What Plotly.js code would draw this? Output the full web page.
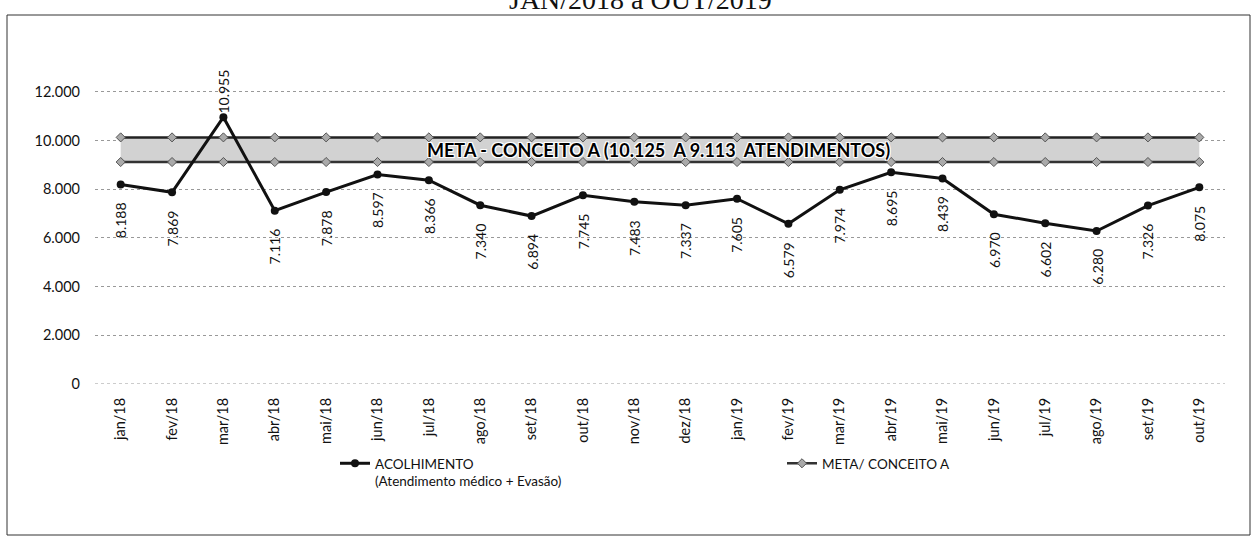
<!DOCTYPE html>
<html>
<head>
<meta charset="utf-8">
<script src="https://cdn.plot.ly/plotly-3.0.1.min.js"></script>
<style>html,body{margin:0;padding:0;background:#fff;}#chart{width:1258px;height:542px;}</style>
</head>
<body>
<div id="chart"></div>
<script>
const months = ["jan/18","fev/18","mar/18","abr/18","mai/18","jun/18","jul/18","ago/18","set/18","out/18","nov/18","dez/18","jan/19","fev/19","mar/19","abr/19","mai/19","jun/19","jul/19","ago/19","set/19","out/19"];
const acolhimento = [8188,7869,10955,7116,7878,8597,8366,7340,6894,7745,7483,7337,7605,6579,7974,8695,8439,6970,6602,6280,7326,8075];
const metaUpper = months.map(() => 10125);
const metaLower = months.map(() => 9113);
const yTicks = [0,2000,4000,6000,8000,10000,12000];
const yTickText = ["0","2.000","4.000","6.000","8.000","10.000","12.000"];
const bandLabel = "META - CONCEITO A (10.125  A 9.113  ATENDIMENTOS)";
const titleText = "JAN/2018 a OUT/2019";

function fmt(v){ return v.toLocaleString('de-DE'); }

const traces = [
  {x: months, y: metaLower, type:'scatter', mode:'lines+markers', name:'META/ CONCEITO A',
   line:{color:'#333', width:2.5}, marker:{symbol:'diamond', size:7, color:'#aaaaaa', line:{color:'#555', width:1}},
   legend:'legend2', hoverinfo:'skip'},
  {x: months, y: metaUpper, type:'scatter', mode:'lines+markers', name:'META upper', showlegend:false,
   fill:'tonexty', fillcolor:'#d2d2d2',
   line:{color:'#222', width:2.5}, marker:{symbol:'diamond', size:7, color:'#aaaaaa', line:{color:'#555', width:1}},
   hoverinfo:'skip'},
  {x: months, y: acolhimento, type:'scatter', mode:'lines+markers', name:'ACOLHIMENTO<br>(Atendimento médico + Evasão)',
   line:{color:'#111', width:3}, marker:{symbol:'circle', size:8, color:'#111'},
   legend:'legend'}
];

const annotations = acolhimento.map((v,i) => {
  const above = v > 10200;
  return {x: months[i], y: v, xref:'x', yref:'y', text: fmt(v), showarrow:false, textangle:-90,
    xanchor:'center', yanchor: above ? 'bottom' : 'top', yshift: above ? 2 : -16,
    font:{family:'Lato, sans-serif', size:14, color:'#111'}};
});
annotations.push({x:(658-95)/1130, y:9619, xref:'paper', yref:'y', text:'<b>'+bandLabel+'</b>', showarrow:false,
  xanchor:'center', yanchor:'middle',
  font:{family:'Lato, sans-serif', size:18, color:'#000', shadow:'1px 1px 0 #fff, -1px -1px 0 #fff, 1px -1px 0 #fff, -1px 1px 0 #fff'}});
annotations.push({x:(640-95)/1130, y:(384-0)/341, xref:'paper', yref:'paper', text:titleText, showarrow:false,
  xanchor:'center', yanchor:'middle', font:{family:'Liberation Serif, serif', size:28, color:'#111'}});

const legendFont = {family:'Lato, sans-serif', size:13.5, color:'#111'};

const layout = {
  width:1258, height:542,
  margin:{l:95, r:33, t:43, b:158},
  paper_bgcolor:'#fff', plot_bgcolor:'#fff',
  showlegend:true,
  legend:{orientation:'v', x:(335-95)/1130, xanchor:'left', y:(384-448)/341, yanchor:'top',
    valign:'top', font:legendFont, bgcolor:'rgba(0,0,0,0)'},
  legend2:{orientation:'v', x:(782-95)/1130, xanchor:'left', y:(384-448)/341, yanchor:'top',
    valign:'top', font:legendFont, bgcolor:'rgba(0,0,0,0)'},
  xaxis:{type:'category', range:[-0.5, months.length-0.5], autorange:false, tickangle:-90, showgrid:false, zeroline:false, showline:false, ticks:'',
    tickfont:{family:'Lato, sans-serif', size:14.5, color:'#111'}, ticklabelstandoff:10, fixedrange:true},
  yaxis:{range:[0,14000], tickvals:yTicks, ticktext:yTickText, showgrid:true, gridcolor:'#999', griddash:'dot', gridwidth:1,
    zeroline:false, showline:false, ticks:'', ticklabelstandoff:14,
    tickfont:{family:'Lato, sans-serif', size:14.5, color:'#111'}, fixedrange:true},
  annotations: annotations,
  shapes:[
    {type:'rect', xref:'paper', yref:'paper', x0:(7-95)/1130, x1:(1250-95)/1130, y0:(384-535)/341, y1:(384-15)/341,
     line:{color:'#333', width:1}, fillcolor:'rgba(0,0,0,0)'},
    {type:'line', xref:'paper', yref:'y', x0:0, x1:1, y0:0, y1:0, line:{color:'#999', width:1, dash:'dot'}}
  ]
};

Plotly.newPlot('chart', traces, layout, {displayModeBar:false, staticPlot:true});
</script>
</body>
</html>
